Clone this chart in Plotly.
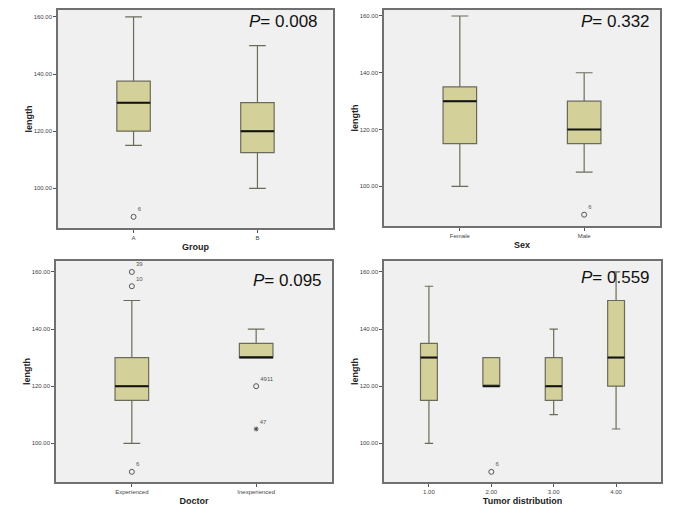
import plotly.graph_objects as go

# ---- data ----
group_cats = ["A", "B"]
group_q1 = [120, 112.5]
group_med = [130, 120]
group_q3 = [137.5, 130]
group_lo = [115, 100]
group_hi = [160, 150]
group_out_x = ["A"]
group_out_y = [90]
group_out_lab = ["6"]

sex_cats = ["Female", "Male"]
sex_q1 = [115, 115]
sex_med = [130, 120]
sex_q3 = [135, 130]
sex_lo = [100, 105]
sex_hi = [160, 140]
sex_out_x = ["Male"]
sex_out_y = [90]
sex_out_lab = ["6"]

doc_cats = ["Experienced", "Inexperienced"]
doc_q1 = [115, 130]
doc_med = [120, 130]
doc_q3 = [130, 135]
doc_lo = [100, 130]
doc_hi = [150, 140]
doc_out_x = ["Experienced", "Experienced", "Experienced", "Inexperienced"]
doc_out_y = [160, 155, 90, 120]
doc_out_lab = ["39", "10", "6", "4911"]
doc_ext_x = ["Inexperienced"]
doc_ext_y = [105]
doc_ext_lab = ["47"]

tum_cats = ["1.00", "2.00", "3.00", "4.00"]
tum_q1 = [115, 120, 115, 120]
tum_med = [130, 120, 120, 130]
tum_q3 = [135, 130, 130, 150]
tum_lo = [100, 120, 110, 105]
tum_hi = [155, 130, 140, 160]
tum_out_x = ["2.00"]
tum_out_y = [90]
tum_out_lab = ["6"]

p_values = ["0.008", "0.332", "0.095", "0.559"]
x_titles = ["Group", "Sex", "Doctor", "Tumor distribution"]
y_ticks = [100, 120, 140, 160]

FILL = "#d4d09a"
BG = "#f0f0f0"
FONT = "Liberation Sans, Arial, sans-serif"

fig = go.Figure()

panels = [
    (group_cats, group_q1, group_med, group_q3, group_lo, group_hi,
     group_out_x, group_out_y, group_out_lab, [], [], []),
    (sex_cats, sex_q1, sex_med, sex_q3, sex_lo, sex_hi,
     sex_out_x, sex_out_y, sex_out_lab, [], [], []),
    (doc_cats, doc_q1, doc_med, doc_q3, doc_lo, doc_hi,
     doc_out_x, doc_out_y, doc_out_lab, doc_ext_x, doc_ext_y, doc_ext_lab),
    (tum_cats, tum_q1, tum_med, tum_q3, tum_lo, tum_hi,
     tum_out_x, tum_out_y, tum_out_lab, [], [], []),
]

for i, (cats, q1, med, q3, lo, hi, ox, oy, ol, ex, ey, el) in enumerate(panels):
    xa = "x" if i == 0 else f"x{i + 1}"
    ya = "y" if i == 0 else f"y{i + 1}"
    fig.add_trace(go.Box(
        x=cats, q1=q1, median=med, q3=q3, lowerfence=lo, upperfence=hi,
        fillcolor=FILL, line=dict(color="#6b6b5a", width=1.2),
        width=0.27, whiskerwidth=0.5, boxpoints=False,
        xaxis=xa, yaxis=ya, showlegend=False, hoverinfo="skip",
    ))
    # thicker black median line drawn on top
    fig.add_trace(go.Box(
        x=cats, q1=med, median=med, q3=med, lowerfence=med, upperfence=med,
        fillcolor="rgba(0,0,0,0)", line=dict(color="#111111", width=2),
        width=0.27, whiskerwidth=0, boxpoints=False,
        xaxis=xa, yaxis=ya, showlegend=False, hoverinfo="skip",
    ))
    fig.add_trace(go.Scatter(
        x=ox, y=oy, mode="markers+text", text=ol,
        textposition="top right", textfont=dict(size=6, color="#555555", family=FONT),
        marker=dict(symbol="circle-open", size=5, color="#555555", line=dict(width=1)),
        xaxis=xa, yaxis=ya, showlegend=False, hoverinfo="skip",
    ))
    if ex:
        fig.add_trace(go.Scatter(
            x=ex, y=ey, mode="markers+text", text=el,
            textposition="top right", textfont=dict(size=6, color="#555555", family=FONT),
            marker=dict(symbol="asterisk-open", size=4, color="#444444", line=dict(width=1)),
            xaxis=xa, yaxis=ya, showlegend=False, hoverinfo="skip",
        ))

# the page body has an 8px margin, so work in screen pixels minus 8
OFF = 8
W, H = 685 - OFF, 513 - OFF
# panel boxes in screen pixels: (x0, x1), (y_top, y_bottom), y of 160 tick, y of 100 tick
domains = [
    ((58, 333), (3, 227), 15, 187),
    ((384, 660), (3, 225), 14, 185),
    ((56, 332), (260, 482), 271, 443),
    ((384, 661), (260, 482), 271, 443),
]
p_pos = [(320, 20), (652, 20), (324, 280), (652, 277)]

layout = dict(
    width=W, height=H, paper_bgcolor="white", plot_bgcolor=BG,
    margin=dict(l=0, r=0, t=0, b=0), font=dict(family=FONT, color="#222222"),
    showlegend=False,
)
annotations = []
for i, ((x0, x1), (y0, y1), t160, t100) in enumerate(domains):
    sfx = "" if i == 0 else str(i + 1)
    ncat = len(panels[i][0])
    pad = 0.61 if ncat == 2 else 0.72
    fx0, fx1 = x0 - OFF, x1 - OFF
    fy0, fy1 = max(y0 - OFF, 0), y1 - OFF
    ppu = (t100 - t160) / 60.0
    r_top = 160 + ((t160 - OFF) - fy0) / ppu
    r_bot = 100 - (fy1 - (t100 - OFF)) / ppu
    layout["xaxis" + sfx] = dict(
        domain=[fx0 / W, fx1 / W], anchor="y" + sfx, type="category",
        range=[-pad, ncat - 1 + pad], showgrid=False, zeroline=False,
        showline=True, linecolor="#707070", linewidth=1.5, mirror=True,
        ticks="outside", ticklen=3, tickcolor="#555555",
        tickfont=dict(size=6, color="#444444"),
        title=dict(text="<b>" + x_titles[i] + "</b>", font=dict(size=9, color="#222222"), standoff=4),
    )
    layout["yaxis" + sfx] = dict(
        domain=[1 - fy1 / H, 1 - fy0 / H], anchor="x" + sfx,
        range=[r_bot, r_top], tickvals=y_ticks, ticktext=[f"{v:.2f}" for v in y_ticks],
        showgrid=False, zeroline=False,
        showline=True, linecolor="#707070", linewidth=1.5, mirror=True,
        ticks="outside", ticklen=3, tickcolor="#555555",
        tickfont=dict(size=6, color="#444444"),
        title=dict(text="<b>length</b>", font=dict(size=9, color="#222222"), standoff=0),
    )
    px, py = p_pos[i]
    annotations.append(dict(
        xref="paper", yref="paper", x=(px - OFF) / W, y=1 - (py - OFF) / H,
        xanchor="right", yanchor="middle", showarrow=False,
        text="<i>P</i>= " + p_values[i], font=dict(size=17, color="#111111"),
    ))
layout["annotations"] = annotations
fig.update_layout(**layout)

fig.write_html("out.html")
